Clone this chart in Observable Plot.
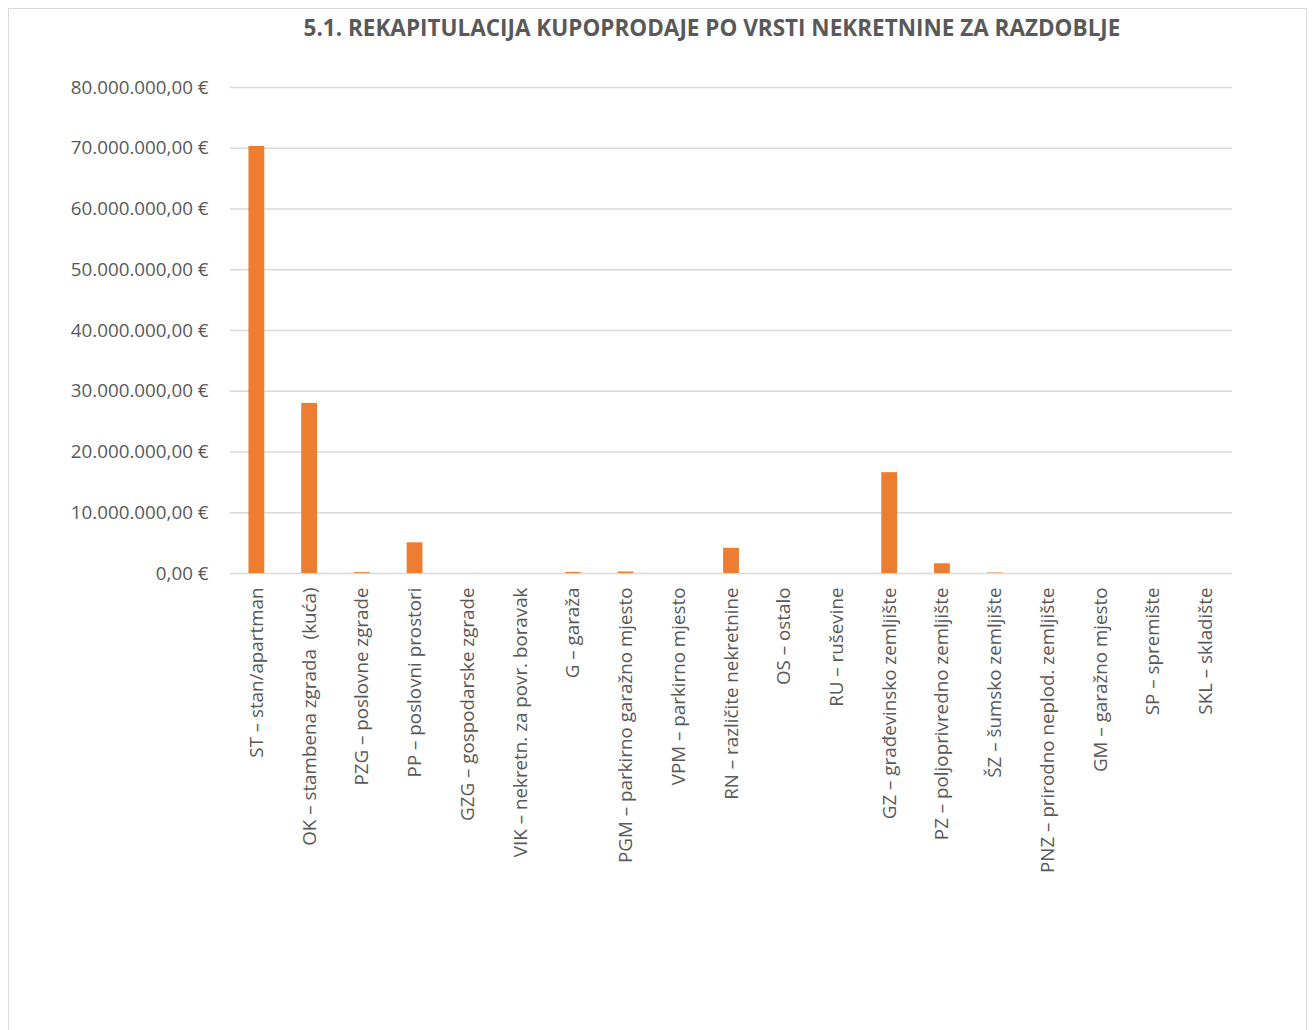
<!DOCTYPE html>
<html><head><meta charset="utf-8">
<script src="https://cdn.jsdelivr.net/npm/d3@7"></script>
<script src="https://cdn.jsdelivr.net/npm/@observablehq/plot@0.6"></script>
<style>
html,body{margin:0;padding:0;background:#fff;}
#wrap{position:relative;width:1314px;height:1030px;overflow:hidden;font-family:"Open Sans",sans-serif;}
#frame{position:absolute;left:8px;top:8px;width:1299px;height:1040px;border:1px solid #d9d9d9;box-sizing:border-box;}
#title{position:absolute;left:0;top:12px;width:1314px;padding-left:110px;box-sizing:border-box;text-align:center;font-weight:bold;font-size:22.5px;color:#595959;}
#chart{position:absolute;left:0;top:0;}
</style></head>
<body><div id="wrap"><div id="frame"></div><div id="chart"></div><div id="title">5.1. REKAPITULACIJA KUPOPRODAJE PO VRSTI NEKRETNINE ZA RAZDOBLJE</div></div>
<script>
const categories = ["ST – stan/apartman","OK – stambena zgrada  (kuća)","PZG – poslovne zgrade","PP – poslovni prostori","GZG – gospodarske zgrade","VIK – nekretn. za povr. boravak","G – garaža","PGM – parkirno garažno mjesto","VPM – parkirno mjesto","RN – različite nekretnine","OS – ostalo","RU – ruševine","GZ – građevinsko zemljište","PZ – poljoprivredno zemljište","ŠZ – šumsko zemljište","PNZ – prirodno neplod. zemljište","GM – garažno mjesto","SP – spremište","SKL – skladište"];
const values = [70300000, 28000000, 150000, 5050000, 0, 0, 180000, 250000, 0, 4150000, 0, 0, 16600000, 1600000, 80000, 0, 0, 0, 0];
const yTicks = [0,10000000,20000000,30000000,40000000,50000000,60000000,70000000,80000000];

const data = categories.map((c,i)=>({cat:c, value:values[i]}));
const loc = d3.formatLocale({decimal:",", thousands:".", grouping:[3], currency:["", " €"]});
const fmt = loc.format("$,.2f");

const chart = Plot.plot({
  width:1314, height:1030,
  marginTop:87, marginBottom:457, marginLeft:230, marginRight:82,
  style:{fontFamily:"Open Sans, sans-serif", fontSize:"18.8px", color:"#595959", background:"transparent"},
  x:{domain:categories, paddingInner:0.7, paddingOuter:0.35, round:false, label:null},
  y:{domain:[0,80000000], ticks:yTicks, label:null, tickFormat:fmt},
  marks:[
    Plot.ruleY(yTicks, {stroke:"#d9d9d9", strokeWidth:1.5, strokeOpacity:1}),
    Plot.barY(data, {x:"cat", y:"value", fill:"#ed7d31"}),
    Plot.axisY({ticks:yTicks, tickFormat:fmt, tickSize:0, tickPadding:22, fontSize:18.8, label:null}),
    Plot.axisX({tickSize:0, tickPadding:14, tickRotate:-90, fontSize:18.8, label:null})
  ]
});
document.getElementById("chart").appendChild(chart);
</script></body></html>
